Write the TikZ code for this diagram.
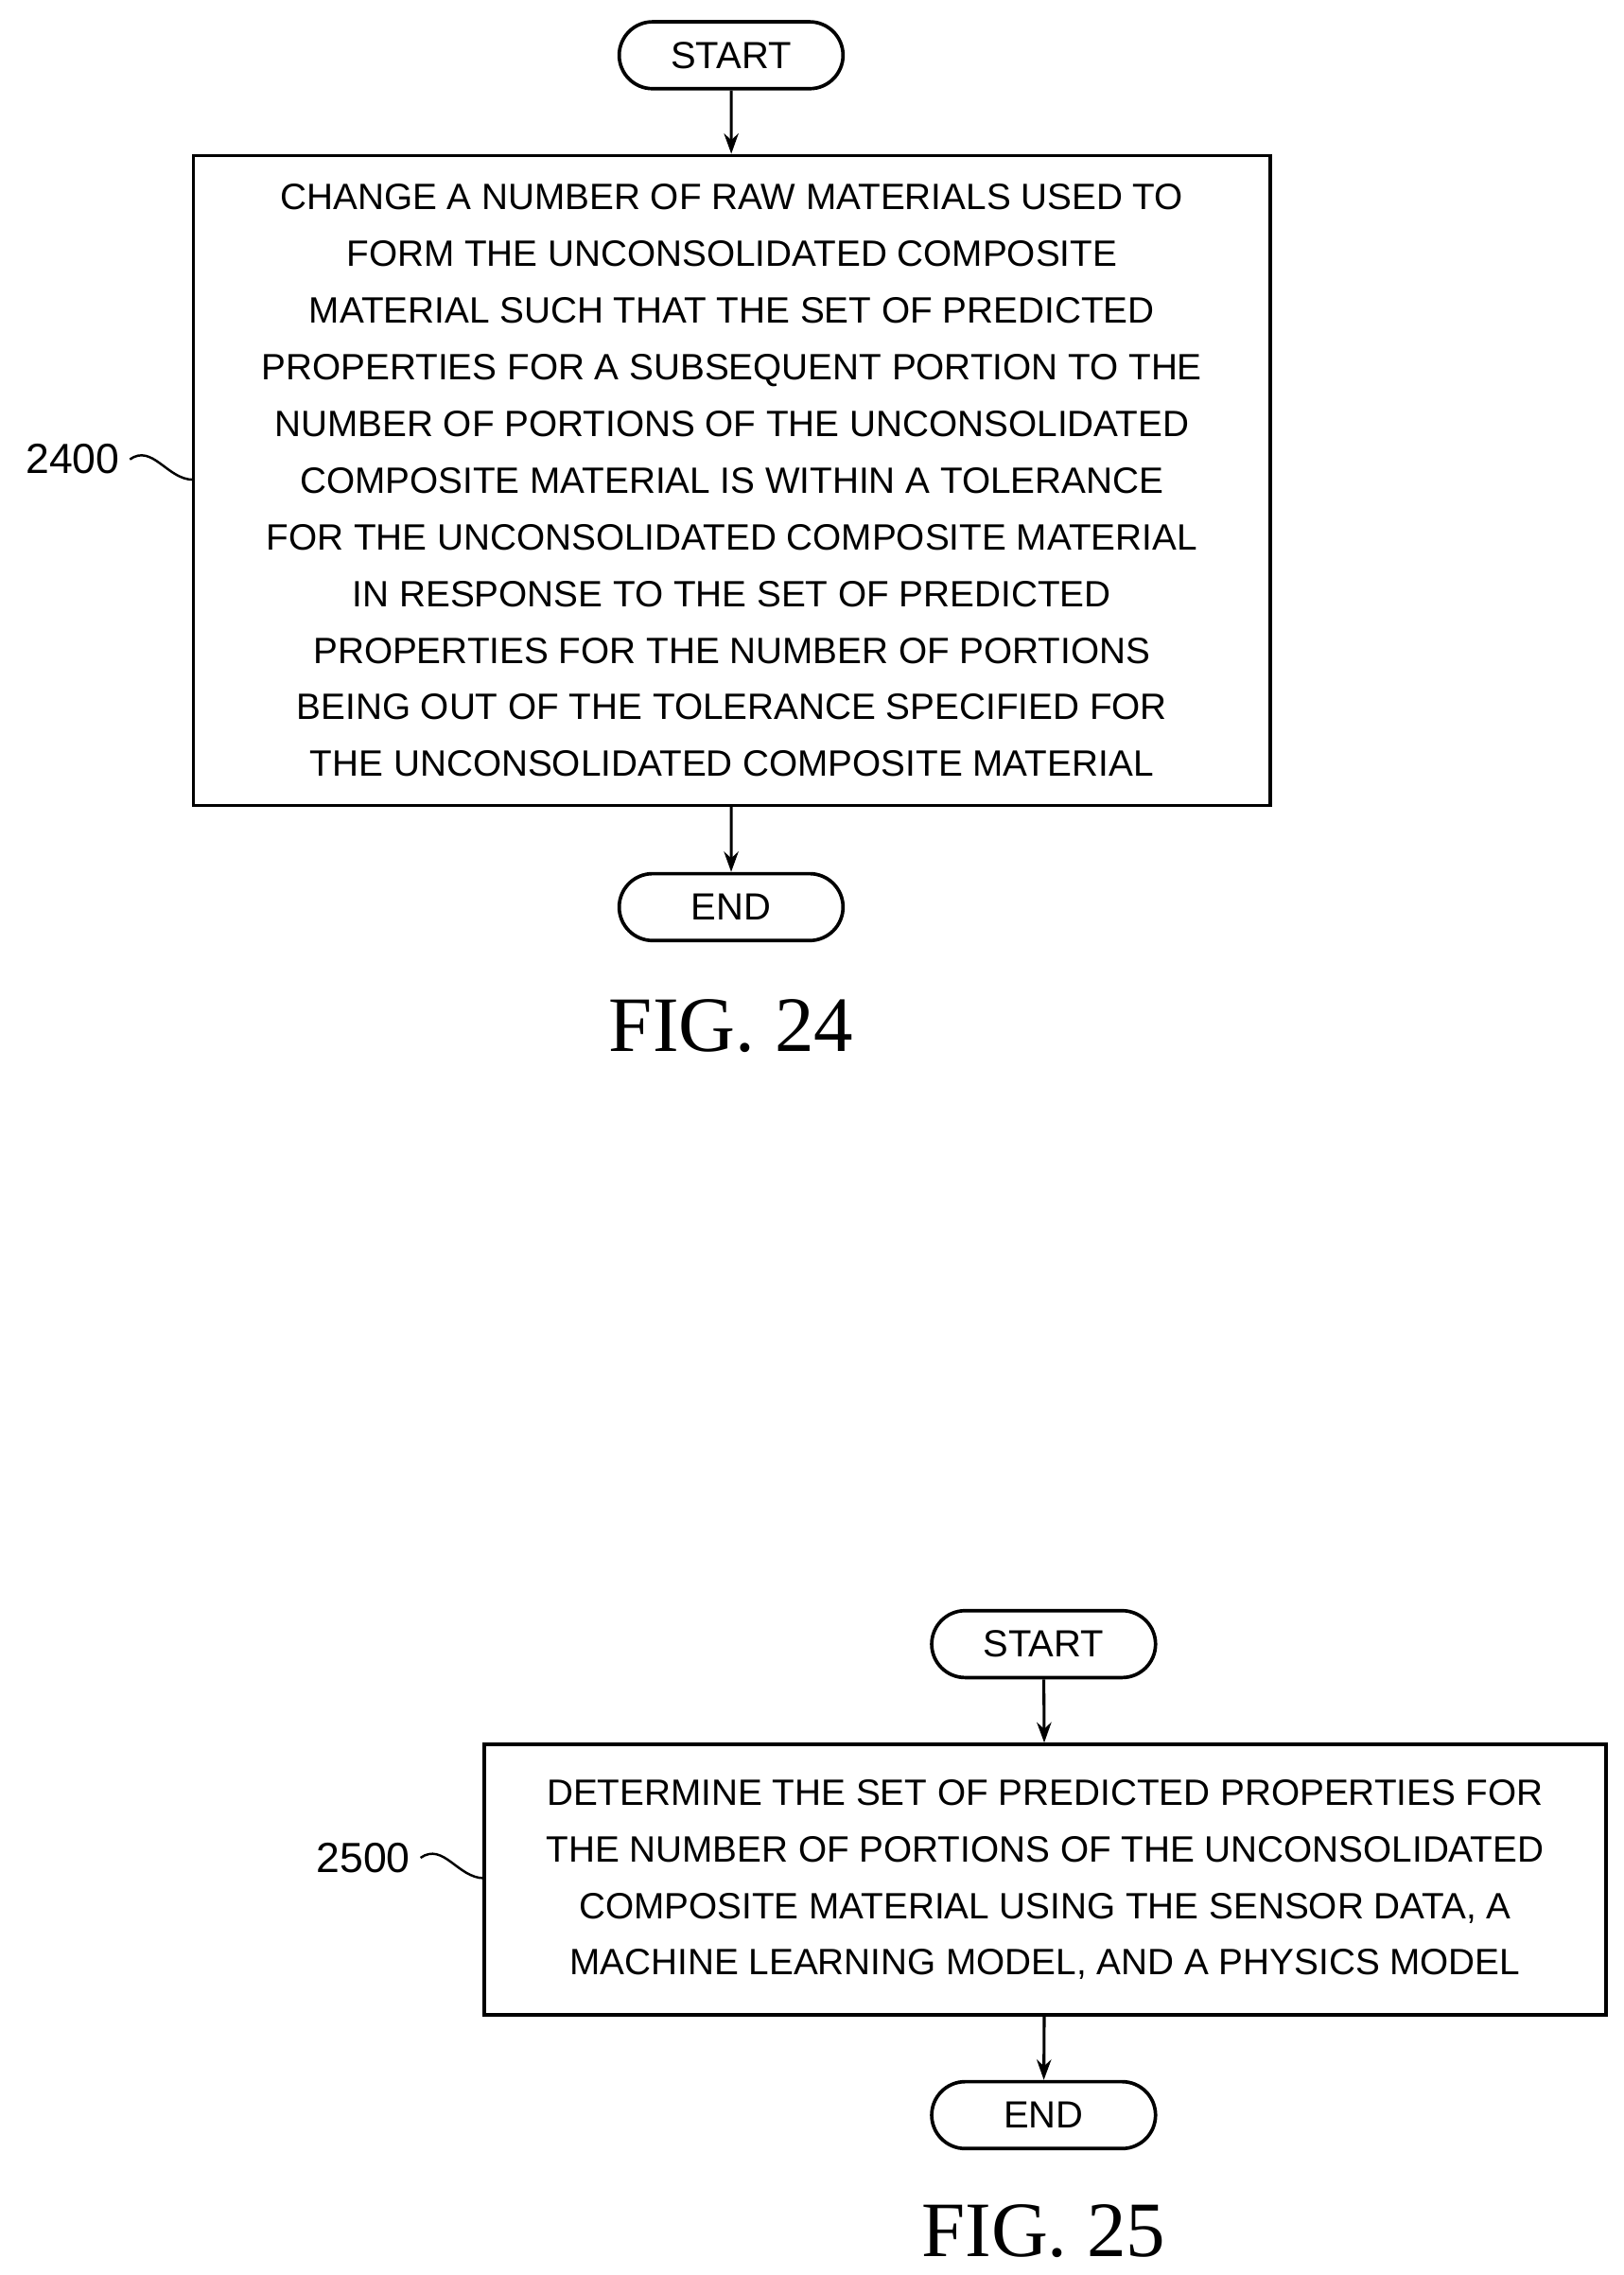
\documentclass[tikz,border=0pt]{standalone}
\usepackage{fontspec}
\setmainfont{Liberation Sans}
\newfontfamily\figfont{Liberation Serif}
\usetikzlibrary{arrows.meta}
\begin{document}
\begin{tikzpicture}[x=0.5pt,y=-0.5pt,
  term/.style={draw,line width=1.2pt,rounded corners=11.5pt,minimum width=77pt,minimum height=23pt,inner sep=0pt,font=\fontsize{13}{15}\selectfont},
  box/.style={draw,line width=1.2pt,align=center,inner sep=0pt,font=\fontsize{12.6}{19.5}\selectfont},
  arr/.style={-{Stealth[length=7pt,width=5pt]},line width=1pt},
  lbl/.style={font=\fontsize{14.5}{16}\selectfont},
  fig/.style={font=\figfont\fontsize{27}{30}\selectfont}]
\useasboundingbox (0,0) rectangle (1117,1565);
\node[term] (s1) at (503,38) {START};
\node[box,minimum width=370.5pt,minimum height=223.5pt] (b1) at (503.5,330.5) {CHANGE A NUMBER OF RAW MATERIALS USED TO\\FORM THE UNCONSOLIDATED COMPOSITE\\MATERIAL SUCH THAT THE SET OF PREDICTED\\PROPERTIES FOR A SUBSEQUENT PORTION TO THE\\NUMBER OF PORTIONS OF THE UNCONSOLIDATED\\COMPOSITE MATERIAL IS WITHIN A TOLERANCE\\FOR THE UNCONSOLIDATED COMPOSITE MATERIAL\\IN RESPONSE TO THE SET OF PREDICTED\\PROPERTIES FOR THE NUMBER OF PORTIONS\\BEING OUT OF THE TOLERANCE SPECIFIED FOR\\THE UNCONSOLIDATED COMPOSITE MATERIAL};
\node[term] (e1) at (503,624) {END};
\draw[arr] (s1) -- (b1);
\draw[arr] (b1) -- (e1);
\node[lbl] (l1) at (50,316) {2400};
\coordinate (l1e) at (133,330);
\draw[line width=0.8pt] (l1.east) .. controls (105,305) and (115,330) .. (l1e);
\node[fig] (f1) at (503,706) {FIG. 24};

\node[term] (s2) at (718,1131) {START};
\node[box,minimum width=386pt,minimum height=93pt] (b2) at (719,1293) {DETERMINE THE SET OF PREDICTED PROPERTIES FOR\\THE NUMBER OF PORTIONS OF THE UNCONSOLIDATED\\COMPOSITE MATERIAL USING THE SENSOR DATA, A\\MACHINE LEARNING MODEL, AND A PHYSICS MODEL};
\node[term] (e2) at (718,1455) {END};
\draw[arr] (s2) -- (b2);
\draw[arr] (b2) -- (e2);
\node[lbl] (l2) at (250,1278) {2500};
\coordinate (l2e) at (333,1292);
\draw[line width=0.8pt] (l2.east) .. controls (305,1267) and (315,1292) .. (l2e);
\node[fig] (f2) at (718,1535) {FIG. 25};
\end{tikzpicture}
\end{document}
